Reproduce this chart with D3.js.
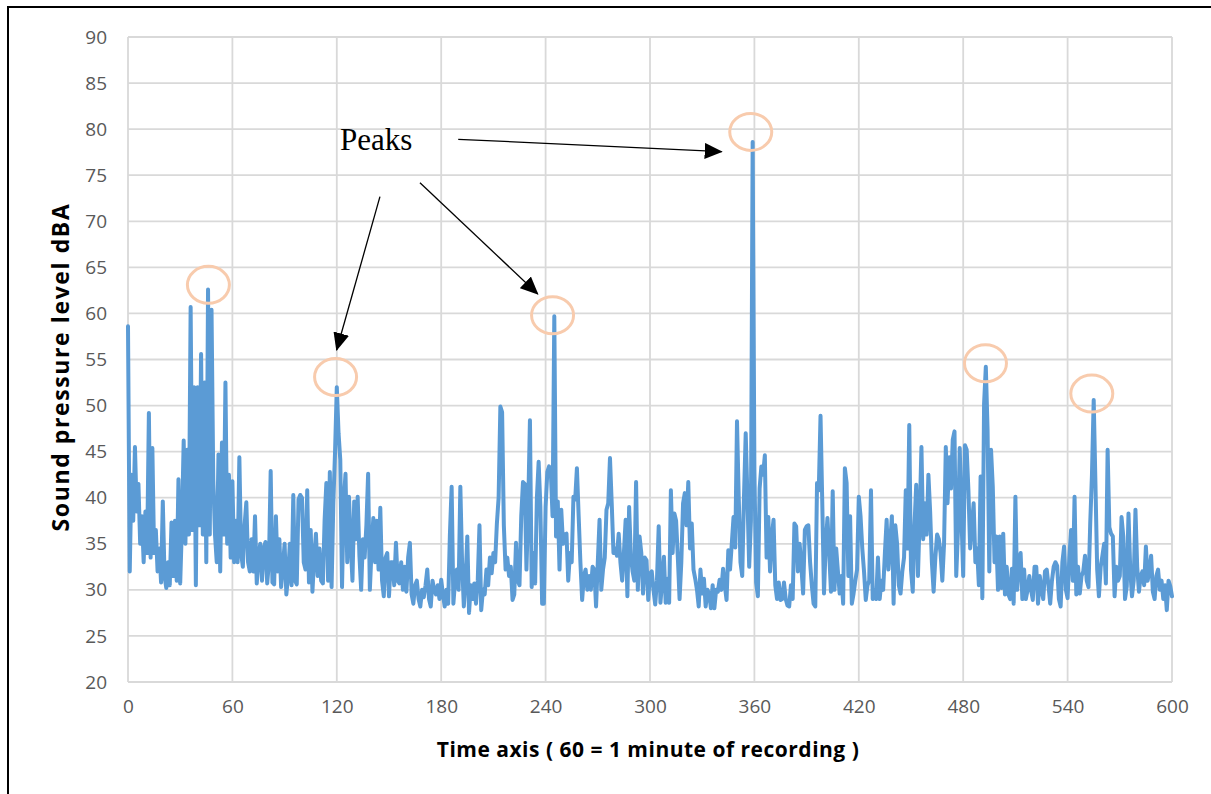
<!DOCTYPE html>
<html>
<head>
<meta charset="utf-8">
<script src="https://cdn.jsdelivr.net/npm/d3@7"></script>
<style>
  html, body { margin: 0; padding: 0; background: #fff; }
  svg { display: block; }
</style>
</head>
<body>
<svg id="chart" width="1211" height="794"></svg>
<script>
// ---- Data ----
// Sound pressure level (dBA), one reading per second, t = 0 .. 600
const spl = [
  // 0-98
  58.6,32.0,42.5,37.5,45.5,38.5,41.5,35.0,38.0,33.0,
  38.5,34.0,49.2,33.5,45.4,34.0,36.5,32.0,34.5,30.8,
  39.6,31.5,30.2,33.0,30.5,37.3,31.5,37.5,31.0,42.0,
  30.7,37.0,46.2,35.0,45.2,36.0,60.7,36.5,52.0,30.5,
  52.0,37.0,55.6,36.0,52.5,33.0,62.6,36.0,60.4,42.0,
  36.0,33.0,44.7,32.0,46.0,36.0,52.5,35.0,42.5,33.5,
  41.8,33.0,37.5,33.0,44.4,34.0,32.5,37.0,39.5,33.0,
  32.0,35.5,32.0,38.0,30.7,33.5,35.0,31.0,34.5,35.2,
  30.7,33.0,42.9,30.8,30.6,38.0,32.0,35.5,30.3,32.5,
  35.0,29.5,31.5,35.0,30.5,40.3,31.0,30.6,39.8,
  // 99-196
  40.3,40.0,33.0,32.2,40.8,30.8,36.5,29.8,33.5,36.1,
  31.5,34.5,31.0,30.7,37.6,41.6,31.0,42.8,30.3,39.4,
  45.0,52.0,47.0,44.1,30.3,39.6,42.6,33.0,40.1,35.0,
  31.0,39.6,35.5,40.1,33.7,30.0,35.5,33.5,37.0,42.6,
  30.0,34.5,37.8,33.0,37.5,32.2,38.9,31.0,29.3,33.5,
  34.0,29.3,33.0,33.0,30.5,35.1,31.0,30.7,33.0,30.0,
  32.5,29.8,33.5,35.1,29.5,28.5,30.5,31.0,29.0,28.2,
  30.0,29.2,30.5,32.2,29.0,28.2,31.0,30.0,29.5,30.5,
  29.0,31.1,29.5,28.2,30.0,28.5,36.0,41.2,28.5,31.0,
  32.2,30.0,41.2,33.0,28.2,31.0,35.8,27.5,
  // 197-294
  30.5,29.0,30.7,28.5,31.0,37.0,27.8,30.0,29.5,32.2,
  30.5,33.5,31.8,34.0,33.0,37.2,40.0,49.9,49.3,37.0,
  32.2,33.5,31.5,32.5,28.9,29.5,35.1,31.0,30.5,38.0,
  41.7,41.5,32.2,39.0,48.4,30.3,34.0,30.7,40.0,43.9,
  39.0,28.5,28.5,39.0,42.8,43.4,42.8,38.0,59.7,35.8,
  39.6,32.2,38.7,35.0,36.0,36.1,31.0,34.0,33.0,40.1,
  39.8,43.2,38.0,33.0,28.9,31.5,32.2,30.0,31.5,30.0,
  32.5,32.2,28.2,33.0,37.6,30.0,32.2,33.5,38.7,39.4,
  44.3,39.4,34.0,34.5,33.7,36.1,33.0,31.0,34.0,37.6,
  29.3,39.0,33.7,32.0,31.0,41.7,30.0,35.8,
  // 295-390
  34.0,29.6,33.5,33.2,28.9,31.8,32.0,30.0,28.4,31.0,
  36.9,28.6,31.0,33.6,28.6,31.2,28.6,40.8,34.0,38.3,
  37.5,33.5,29.0,33.0,39.4,40.5,37.0,41.7,34.5,37.2,
  32.2,31.2,30.0,28.2,32.2,29.6,31.2,28.2,30.0,29.6,
  28.0,30.5,28.0,30.0,29.8,31.1,30.0,32.3,30.5,28.9,
  34.3,32.2,35.0,37.9,34.6,48.3,40.0,33.0,31.5,40.0,
  47.0,40.0,32.5,37.5,78.6,43.0,30.8,29.3,41.0,43.4,
  42.5,44.6,33.5,37.9,32.0,35.8,37.6,30.5,29.0,30.8,
  28.9,29.0,30.8,29.0,28.3,28.2,30.5,29.0,37.2,36.9,
  32.0,35.0,32.5,29.6,36.5,36.9,
  // 391-489
  37.0,33.0,30.5,28.5,28.2,41.6,40.8,48.9,39.5,29.6,
  35.0,37.8,34.0,29.8,40.7,30.0,34.5,32.0,29.6,31.5,
  28.5,43.2,41.6,31.5,38.0,28.5,29.6,31.0,32.2,40.1,
  38.0,34.5,32.0,28.9,30.5,31.0,40.8,29.0,30.0,29.0,
  33.5,29.0,31.0,30.0,34.0,37.6,32.2,35.0,38.0,28.5,
  37.0,35.0,30.5,29.6,32.0,33.5,40.8,34.5,47.9,32.2,
  29.8,37.0,41.4,31.5,38.0,45.5,35.5,39.4,36.0,42.5,
  38.5,33.0,29.8,33.5,36.0,35.5,34.0,31.0,35.0,45.5,
  39.4,44.4,41.0,46.3,47.2,31.5,36.5,45.4,38.0,31.5,
  45.7,45.2,40.8,34.5,37.0,39.4,33.0,34.5,30.5,
  // 490-600
  42.3,29.1,50.2,54.2,47.4,32.0,45.2,41.2,33.0,35.8,
  30.0,35.8,30.2,36.1,29.5,32.5,29.5,29.0,32.3,28.5,
  40.1,30.0,33.0,34.0,29.0,32.2,29.0,30.0,31.5,30.0,
  28.9,32.5,32.5,28.5,31.5,30.0,29.0,32.0,32.2,30.5,
  28.5,31.0,32.5,33.0,32.6,29.0,28.2,33.0,34.7,30.0,
  29.1,33.5,36.5,31.0,40.1,29.5,32.5,29.6,31.5,32.0,
  33.7,31.0,30.3,37.2,42.5,50.6,41.5,32.2,29.3,32.5,
  33.7,35.0,30.7,45.2,36.8,36.1,35.8,29.3,32.5,31.0,
  31.5,37.9,35.8,29.0,30.4,38.3,32.2,29.3,31.0,38.7,
  32.5,29.8,31.5,32.0,30.5,34.7,31.0,32.0,33.7,29.8,
  29.0,31.5,32.2,30.0,31.0,29.0,30.5,27.8,31.0,30.4,
  29.3
];
const seconds = spl.map((_, i) => i);

const yTicks = [20,25,30,35,40,45,50,55,60,65,70,75,80,85,90];
const xTicks = [0,60,120,180,240,300,360,420,480,540,600];

// Highlighted peaks (ellipse centres, in data units)
const peakT = [46.2, 119.3, 244.0, 357.9, 492.8, 553.9];
const peakV = [63.1, 53.1, 59.8, 79.7, 54.6, 51.3];

// Annotation arrows (data units): from (t0,v0) to (t1,v1)
const arrowT0 = [189.8, 144.8, 167.8];
const arrowV0 = [78.9, 72.67, 74.19];
const arrowT1 = [341.2, 119.9, 235.5];
const arrowV1 = [77.55, 56.03, 62.11];
const labelText = "Peaks";
const labelT = 121.8, labelV = 77.74;

const xTitle = "Time axis ( 60 = 1 minute of recording )";
const yTitle = "Sound pressure level dBA";

// ---- Drawing ----
const svg = d3.select("#chart");
const plot = {left: 128, right: 1172, top: 37, bottom: 682};

const x = d3.scaleLinear().domain([0, 600]).range([plot.left, plot.right]);
const y = d3.scaleLinear().domain([20, 90]).range([plot.bottom, plot.top]);

// outer frame
svg.append("rect")
  .attr("x", 8).attr("y", 7).attr("width", 1215).attr("height", 800)
  .attr("fill", "none").attr("stroke", "#000").attr("stroke-width", 2);

// gridlines
const grid = svg.append("g").attr("stroke", "#d9d9d9").attr("stroke-width", 1.8);
grid.selectAll("line.h").data(yTicks).join("line")
  .attr("x1", plot.left).attr("x2", plot.right)
  .attr("y1", d => y(d)).attr("y2", d => y(d));
grid.selectAll("line.v").data(xTicks).join("line")
  .attr("y1", plot.top).attr("y2", plot.bottom)
  .attr("x1", d => x(d)).attr("x2", d => x(d));

// axes (labels only)
const tickFont = "'Open Sans', 'Liberation Sans', sans-serif";
const yAxis = svg.append("g").attr("transform", `translate(${plot.left},0)`)
  .call(d3.axisLeft(y).tickValues(yTicks).tickSize(0).tickPadding(21));
const xAxis = svg.append("g").attr("transform", `translate(0,${plot.bottom})`)
  .call(d3.axisBottom(x).tickValues(xTicks).tickSize(0).tickPadding(18));
[xAxis, yAxis].forEach(a => {
  a.select(".domain").remove();
  a.selectAll("text").attr("fill", "#595959").attr("font-size", 19)
    .attr("font-family", tickFont);
});

// series
const pts = seconds.map((t, i) => ({t, v: spl[i]}));
svg.append("path")
  .datum(pts)
  .attr("fill", "none")
  .attr("stroke", "#5b9bd5")
  .attr("stroke-width", 4)
  .attr("stroke-linejoin", "round")
  .attr("stroke-linecap", "round")
  .attr("d", d3.line().x(d => x(d.t)).y(d => y(d.v)));

// peak ellipses
svg.append("g").selectAll("ellipse").data(peakT).join("ellipse")
  .attr("cx", d => x(d))
  .attr("cy", (d, i) => y(peakV[i]))
  .attr("rx", 21).attr("ry", 18.5)
  .attr("fill", "none").attr("stroke", "#f8cbad").attr("stroke-width", 3);

// arrows
svg.append("defs").append("marker")
  .attr("id", "ah").attr("markerUnits", "userSpaceOnUse")
  .attr("viewBox", "0 0 18 16").attr("refX", 17).attr("refY", 8)
  .attr("markerWidth", 18).attr("markerHeight", 16).attr("orient", "auto")
  .append("path").attr("d", "M0,0 L18,8 L0,16 Z").attr("fill", "#000");

svg.append("g").selectAll("line").data(arrowT0).join("line")
  .attr("x1", d => x(d)).attr("y1", (d, i) => y(arrowV0[i]))
  .attr("x2", (d, i) => x(arrowT1[i])).attr("y2", (d, i) => y(arrowV1[i]))
  .attr("stroke", "#000").attr("stroke-width", 1.3)
  .attr("marker-end", "url(#ah)");

svg.append("text")
  .attr("x", x(labelT)).attr("y", y(labelV))
  .attr("font-family", "'Liberation Serif', 'Times New Roman', serif")
  .attr("font-size", 31).attr("fill", "#000")
  .text(labelText);

// axis titles
svg.append("text")
  .attr("x", 648).attr("y", 757)
  .attr("text-anchor", "middle")
  .attr("font-family", tickFont).attr("font-weight", "bold")
  .attr("font-size", 21).attr("letter-spacing", 0.5).attr("fill", "#000")
  .text(xTitle);

svg.append("text")
  .attr("transform", "translate(69,367) rotate(-90)")
  .attr("text-anchor", "middle")
  .attr("font-family", tickFont).attr("font-weight", "bold")
  .attr("font-size", 23).attr("letter-spacing", 1.6).attr("fill", "#000")
  .text(yTitle);
</script>
</body>
</html>
